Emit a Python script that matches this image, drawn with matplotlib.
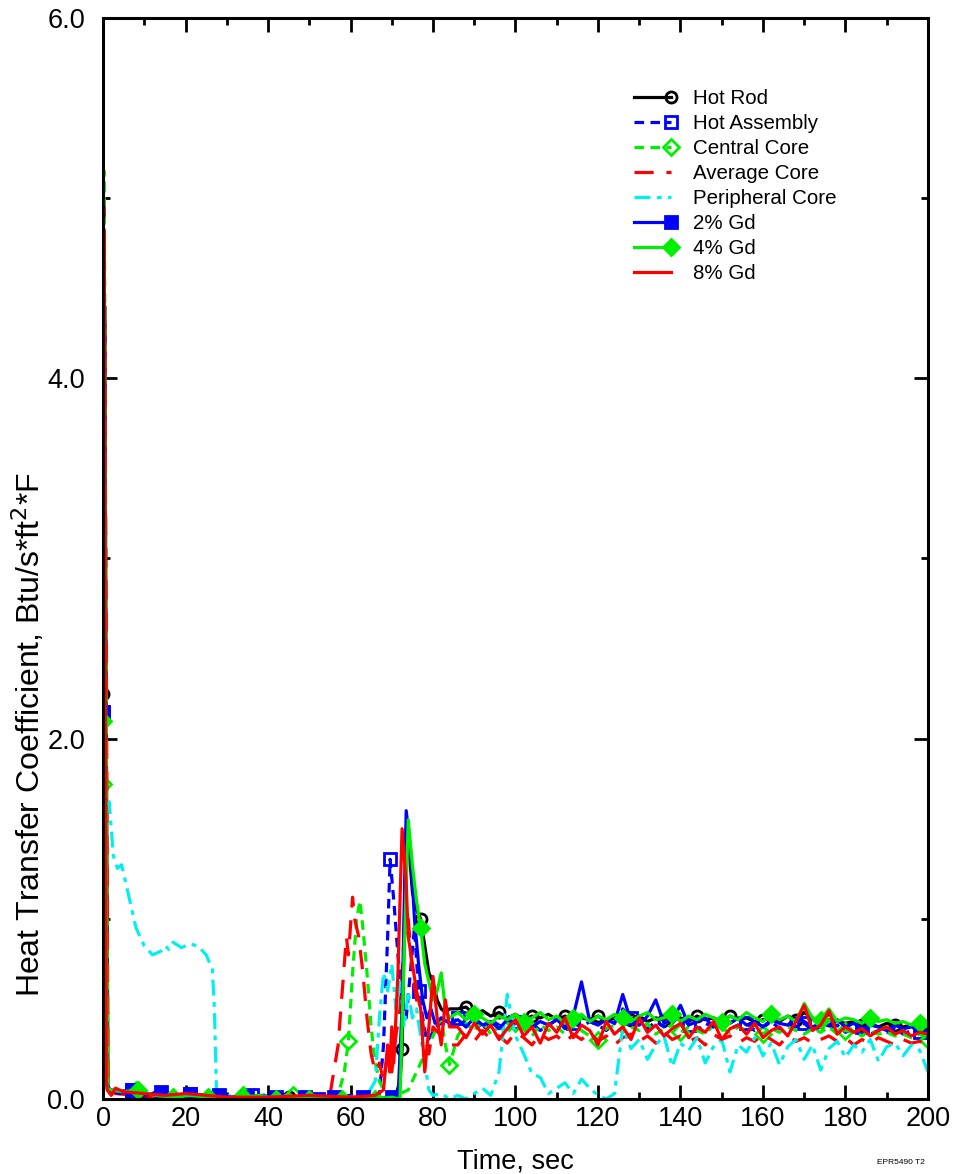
import numpy as np
import matplotlib
matplotlib.use("Agg")
import matplotlib.pyplot as plt
from matplotlib.legend_handler import HandlerLine2D
from matplotlib.ticker import MultipleLocator, FormatStrFormatter

plt.rcParams['font.family'] = ['Liberation Sans', 'DejaVu Sans']

# late-time grid shared by all series (sec)
t_late = [86, 88, 90, 92, 94, 96, 98, 100, 102, 104, 106, 108, 110, 112, 114, 116, 118, 120,
          122, 124, 126, 128, 130, 132, 134, 136, 138, 140, 142, 144, 146, 148, 150, 152, 154,
          156, 158, 160, 162, 164, 166, 168, 170, 172, 174, 176, 178, 180, 182, 184, 186, 188,
          190, 192, 194, 196, 198, 200]

# Hot Rod
rod_t = [0, 0.4, 0.8, 1.2, 2, 5, 10, 15, 20, 25, 30, 35, 40, 45, 50, 55, 60, 65, 69, 70, 71, 72,
         72.5, 73, 73.5, 74, 74.5, 75, 76, 77, 78, 79, 80, 81, 82, 83, 84]
rod_y = [2.25, 4.4, 2.0, 0.06, 0.05, 0.04, 0.0, 0.02, 0.01, 0.02, 0.01, 0.0, 0.0, 0.01, 0.0, 0.0,
         0.0, 0.0, 0.0, 0.0, 0.02, 0.1, 0.28, 0.9, 1.5, 1.45, 1.3, 1.15, 1.05, 1.0, 0.85, 0.7, 0.65,
         0.55, 0.5, 0.48, 0.5]
rod_late = [0.50, 0.51, 0.47, 0.49, 0.46, 0.48, 0.45, 0.47, 0.44, 0.46, 0.45, 0.47, 0.44, 0.46,
            0.43, 0.45, 0.44, 0.46, 0.43, 0.45, 0.47, 0.44, 0.46, 0.43, 0.45, 0.44, 0.46, 0.45,
            0.43, 0.46, 0.44, 0.45, 0.43, 0.46, 0.44, 0.45, 0.43, 0.44, 0.45, 0.43, 0.46, 0.44,
            0.48, 0.45, 0.43, 0.44, 0.43, 0.42, 0.43, 0.41, 0.42, 0.40, 0.42, 0.41, 0.40, 0.41,
            0.39, 0.38]

# Hot Assembly
ha_t = [0, 0.4, 1.0, 1.5, 3, 7, 11, 14, 18, 21, 25, 28, 32, 36, 40, 44, 48, 52, 56, 60, 64, 67,
        68, 69, 69.6, 70.5, 71.5, 72.5, 73.5, 74.5, 75.5, 76.5, 77.5, 78.5, 79.5, 80.5, 82, 84]
ha_y = [2.15, 4.3, 0.1, 0.05, 0.04, 0.05, 0.03, 0.04, 0.02, 0.03, 0.02, 0.02, 0.01, 0.02, 0.01,
        0.02, 0.01, 0.0, 0.01, 0.02, 0.01, 0.02, 0.3, 0.9, 1.33, 1.1, 0.8, 0.55, 0.45, 0.7, 0.95,
        0.6, 0.45, 0.32, 0.35, 0.4, 0.42, 0.4]
ha_late = [0.45, 0.40, 0.43, 0.38, 0.44, 0.41, 0.39, 0.43, 0.40, 0.42, 0.38, 0.41, 0.44, 0.39,
           0.42, 0.40, 0.43, 0.41, 0.38, 0.42, 0.50, 0.45, 0.41, 0.39, 0.43, 0.40, 0.42, 0.47,
           0.41, 0.38, 0.42, 0.40, 0.43, 0.39, 0.41, 0.42, 0.38, 0.40, 0.43, 0.39, 0.41, 0.40,
           0.42, 0.38, 0.40, 0.39, 0.41, 0.37, 0.39, 0.40, 0.36, 0.38, 0.37, 0.39, 0.36, 0.38,
           0.37, 0.35]

# Central Core
cc_t = [0, 0.3, 0.8, 1.2, 3, 8, 12, 17, 21, 25, 30, 34, 38, 42, 46, 50, 54, 57, 58.5, 59.5, 60.5,
        61.5, 62.3, 63, 64, 65, 66, 67, 68, 70, 72, 74, 76, 78, 80, 82, 83, 84]
cc_y = [1.75, 5.15, 2.0, 0.05, 0.04, 0.05, 0.02, 0.03, 0.01, 0.02, 0.01, 0.02, 0.0, 0.01, 0.02,
        0.0, 0.01, 0.02, 0.15, 0.32, 0.7, 1.0, 1.1, 0.95, 0.7, 0.4, 0.2, 0.1, 0.05, 0.02, 0.03,
        0.05, 0.15, 0.25, 0.35, 0.45, 0.3, 0.19]
cc_late = [0.35, 0.42, 0.38, 0.43, 0.36, 0.40, 0.37, 0.42, 0.39, 0.35, 0.41, 0.38, 0.40, 0.36,
           0.41, 0.38, 0.35, 0.33, 0.39, 0.41, 0.37, 0.40, 0.38, 0.42, 0.36, 0.39, 0.41, 0.37,
           0.40, 0.38, 0.36, 0.41, 0.39, 0.37, 0.40, 0.38, 0.41, 0.36, 0.39, 0.37, 0.40, 0.38,
           0.36, 0.39, 0.37, 0.40, 0.36, 0.38, 0.37, 0.35, 0.38, 0.36, 0.37, 0.35, 0.36, 0.34,
           0.36, 0.33]

# Average Core
ac_t = [0, 0.2, 0.8, 1.2, 3, 8, 15, 25, 35, 45, 55, 57, 58, 59, 59.5, 60.5, 61, 62, 63, 64, 65,
        66, 67, 68, 69, 70, 71, 72, 73, 74, 75, 76, 77, 78, 79, 80, 82, 84]
ac_y = [1.7, 4.95, 2.5, 0.05, 0.03, 0.02, 0.01, 0.02, 0.0, 0.01, 0.02, 0.3, 0.6, 0.9, 0.8, 1.12,
        1.0, 0.9, 0.7, 0.45, 0.25, 0.15, 0.2, 0.1, 0.25, 0.15, 0.35, 0.5, 0.9, 1.0, 0.7, 0.55, 0.5,
        0.35, 0.25, 0.4, 0.35, 0.3]
ac_late = [0.30, 0.36, 0.32, 0.38, 0.33, 0.35, 0.31, 0.37, 0.34, 0.30, 0.36, 0.33, 0.35, 0.31,
           0.36, 0.33, 0.37, 0.32, 0.35, 0.30, 0.34, 0.36, 0.32, 0.35, 0.31, 0.37, 0.33, 0.35,
           0.32, 0.34, 0.30, 0.36, 0.33, 0.35, 0.31, 0.34, 0.32, 0.36, 0.33, 0.30, 0.35, 0.32,
           0.34, 0.31, 0.33, 0.35, 0.32, 0.34, 0.30, 0.33, 0.31, 0.34, 0.32, 0.30, 0.33, 0.31,
           0.32, 0.30]

# Peripheral Core
pc_t = [0, 0.5, 1.5, 2.5, 3.5, 4.5, 6, 8, 10, 12, 14, 15, 16, 17, 19, 21, 23, 25, 26.5, 27, 27.5,
        30, 35, 40, 45, 50, 55, 60, 64, 66, 67, 68, 69, 70, 71, 72, 73, 74, 75, 76, 77, 78, 79,
        80, 82, 84]
pc_y = [1.75, 1.6, 1.65, 1.35, 1.28, 1.3, 1.15, 0.95, 0.85, 0.8, 0.82, 0.85, 0.83, 0.87, 0.84,
        0.86, 0.85, 0.8, 0.72, 0.5, 0.05, 0.02, 0.0, 0.03, 0.01, 0.02, 0.0, 0.01, 0.02, 0.1, 0.45,
        0.7, 0.6, 0.75, 0.5, 0.65, 0.4, 0.6, 0.45, 0.5, 0.35, 0.2, 0.05, 0.02, 0.03, 0.0]
pc_late = [0.02, 0.00, 0.03, 0.06, 0.02, 0.15, 0.58, 0.35, 0.25, 0.14, 0.12, 0.03, 0.06, 0.09,
           0.03, 0.11, 0.06, 0.02, 0.00, 0.03, 0.40, 0.28, 0.33, 0.22, 0.30, 0.35, 0.18, 0.31,
           0.27, 0.34, 0.20, 0.29, 0.33, 0.15, 0.30, 0.26, 0.34, 0.24, 0.31, 0.19, 0.29, 0.33,
           0.22, 0.30, 0.16, 0.28, 0.32, 0.23, 0.30, 0.26, 0.33, 0.21, 0.29, 0.31, 0.24, 0.30,
           0.27, 0.15]

# 2% Gd
g2_t = [0, 0.3, 0.8, 1.5, 4, 7, 10, 14, 17, 21, 24, 28, 31, 35, 38, 42, 45, 49, 52, 56, 59, 63,
        66, 70, 71.5, 72.5, 73.5, 74.5, 75.5, 76.5, 77.5, 78.5, 79.5, 80.5, 82, 84]
g2_y = [2.15, 4.3, 0.1, 0.05, 0.03, 0.05, 0.02, 0.04, 0.02, 0.03, 0.02, 0.02, 0.01, 0.01, 0.02,
        0.01, 0.0, 0.01, 0.02, 0.01, 0.0, 0.01, 0.0, 0.01, 0.0, 0.5, 1.6, 1.4, 1.0, 0.75, 0.55,
        0.45, 0.5, 0.42, 0.45, 0.42]
g2_late = [0.44, 0.40, 0.45, 0.41, 0.43, 0.39, 0.44, 0.42, 0.45, 0.40, 0.43, 0.41, 0.44, 0.40,
           0.46, 0.65, 0.43, 0.41, 0.44, 0.42, 0.58, 0.43, 0.41, 0.46, 0.55, 0.42, 0.44, 0.52,
           0.41, 0.43, 0.45, 0.40, 0.44, 0.42, 0.45, 0.41, 0.43, 0.40, 0.44, 0.42, 0.41, 0.45,
           0.43, 0.40, 0.42, 0.41, 0.44, 0.40, 0.42, 0.39, 0.41, 0.40, 0.38, 0.41, 0.39, 0.40,
           0.38, 0.37]

# 4% Gd
g4_t = [0, 0.3, 1.0, 2, 4.5, 8.5, 12.5, 17, 21, 25.5, 29.5, 34, 38, 42, 46, 50, 54, 58, 62, 66,
        70, 72, 73, 74, 75, 76, 77, 78, 79, 80, 81, 82, 83, 84]
g4_y = [2.1, 4.2, 0.06, 0.05, 0.04, 0.05, 0.02, 0.01, 0.02, 0.01, 0.0, 0.01, 0.02, 0.0, 0.01,
        0.0, 0.01, 0.0, 0.01, 0.0, 0.01, 0.0, 0.8, 1.55, 1.3, 1.1, 0.95, 0.75, 0.65, 0.55, 0.6,
        0.7, 0.5, 0.45]
g4_late = [0.48, 0.44, 0.47, 0.45, 0.42, 0.46, 0.44, 0.47, 0.43, 0.45, 0.48, 0.44, 0.46, 0.42,
           0.45, 0.47, 0.43, 0.46, 0.44, 0.47, 0.45, 0.43, 0.46, 0.48, 0.44, 0.45, 0.47, 0.43,
           0.46, 0.44, 0.47, 0.45, 0.43, 0.46, 0.44, 0.48, 0.45, 0.43, 0.47, 0.44, 0.46, 0.43,
           0.53, 0.45, 0.44, 0.50, 0.43, 0.45, 0.44, 0.42, 0.45, 0.43, 0.44, 0.42, 0.43, 0.41,
           0.42, 0.40]

# 8% Gd
g8_t = [0, 0.3, 0.8, 1.0, 2, 3, 5, 10, 15, 20, 25, 30, 40, 50, 60, 66, 68, 69, 69.5, 70, 70.5, 71,
        71.5, 72.5, 73.5, 74, 75, 76, 77, 78, 79, 80, 81, 82, 83, 84]
g8_y = [2.0, 4.8, 0.1, 0.05, 0.02, 0.06, 0.04, 0.03, 0.02, 0.03, 0.02, 0.01, 0.01, 0.02, 0.01,
        0.02, 0.05, 0.3, 0.15, 0.4, 0.2, 0.45, 0.7, 1.5, 1.2, 0.9, 0.75, 0.6, 0.5, 0.15, 0.4, 0.68,
        0.45, 0.3, 0.55, 0.4]
g8_late = [0.40, 0.34, 0.42, 0.36, 0.41, 0.33, 0.39, 0.44, 0.35, 0.40, 0.31, 0.42, 0.37, 0.45,
           0.34, 0.41, 0.38, 0.30, 0.43, 0.36, 0.40, 0.33, 0.45, 0.37, 0.41, 0.35, 0.39, 0.42,
           0.34, 0.40, 0.37, 0.43, 0.33, 0.39, 0.41, 0.36, 0.42, 0.34, 0.38, 0.40, 0.35, 0.43,
           0.52, 0.38, 0.41, 0.49, 0.36, 0.40, 0.37, 0.39, 0.35, 0.38, 0.40, 0.36, 0.38, 0.35,
           0.37, 0.36]

labels = ["Hot Rod", "Hot Assembly", "Central Core", "Average Core", "Peripheral Core",
          "2% Gd", "4% Gd", "8% Gd"]


def mark_idx(t, times):
    t = np.asarray(t, dtype=float)
    return sorted({int(np.abs(t - m).argmin()) for m in times})


series = [
    (rod_t, rod_y, rod_late, dict(color="black", ls="-", marker="o", mfc="none",
                                  marks=[0, 10, 35, 45, 72.5, 77] + list(range(88, 201, 8)))),
    (ha_t, ha_y, ha_late, dict(color="#0000ff", ls=(0, (3, 2)), marker="s", mfc="none",
                               marks=[0, 7, 21, 36, 52, 69.6, 76.5] + list(range(86, 201, 14)))),
    (cc_t, cc_y, cc_late, dict(color="#00ee00", ls=(0, (3, 2)), marker="D", mfc="none",
                               marks=[0, 8, 21, 34, 46, 59.5, 84] + list(range(100, 201, 20)))),
    (ac_t, ac_y, ac_late, dict(color="#ff0000", ls=(0, (6, 4)), marker=None, mfc="none", marks=None)),
    (pc_t, pc_y, pc_late, dict(color="#00f0f0", ls=(0, (5, 2, 1.5, 2)), marker=None, mfc="none",
                               marks=None)),
    (g2_t, g2_y, g2_late, dict(color="#0000ff", ls="-", marker="s", mfc="#0000ff",
                               marks=[0, 7, 14, 21, 28, 35, 42, 49, 56, 63, 70])),
    (g4_t, g4_y, g4_late, dict(color="#00ee00", ls="-", marker="D", mfc="#00ee00",
                               marks=[0, 8.5, 17, 25.5, 34, 42, 50, 58, 66, 77] + list(range(90, 201, 12)))),
    (g8_t, g8_y, g8_late, dict(color="#ff0000", ls="-", marker=None, mfc="none", marks=None)),
]

fig = plt.figure(figsize=(9.54, 11.74), dpi=100)
ax = fig.add_axes([0.108, 0.0639, 0.8647, 0.9208])

handles = []
for (t, y, late, st), lab in zip(series, labels):
    tt = list(t) + t_late
    yy = list(y) + late
    me = mark_idx(tt, st["marks"]) if st["marks"] is not None else None
    ln, = ax.plot(tt, yy, color=st["color"], ls=st["ls"], lw=2.3,
                  marker=st["marker"], mfc=st["mfc"], mec=st["color"], mew=2.0,
                  ms=8, markevery=me, label=lab)
    handles.append(ln)


class EndMarker(HandlerLine2D):
    def create_artists(self, *args, **kwargs):
        arts = super().create_artists(*args, **kwargs)
        arts[0].set_markevery([1])
        return arts


ax.legend(handles=handles, loc="upper left", bbox_to_anchor=(618 / 954, 1 - 79 / 1174),
          bbox_transform=fig.transFigure, frameon=False, fontsize=14.75, handlelength=2.4,
          handletextpad=0.75, labelspacing=0.29, borderpad=0, numpoints=2,
          handler_map={matplotlib.lines.Line2D: EndMarker(numpoints=2)})

ax.set_xlim(0, 200)
ax.set_ylim(0, 6)
ax.xaxis.set_major_locator(MultipleLocator(20))
ax.xaxis.set_minor_locator(MultipleLocator(10))
ax.yaxis.set_major_locator(MultipleLocator(2))
ax.yaxis.set_minor_locator(MultipleLocator(1))
ax.yaxis.set_major_formatter(FormatStrFormatter("%.1f"))
ax.tick_params(which="both", direction="in", top=True, right=True, width=2, labelsize=19.5)
ax.tick_params(which="major", length=10)
ax.tick_params(which="minor", length=5)
ax.tick_params(axis="x", which="major", pad=5)
ax.tick_params(axis="y", which="major", pad=13)
for sp in ax.spines.values():
    sp.set_linewidth(2.2)

ax.set_xlabel("Time, sec", fontsize=19.5, labelpad=12)
ax.set_ylabel("Heat Transfer Coefficient, Btu/s*ft$^2$*F", fontsize=23)
ax.yaxis.set_label_coords(-0.068, 0.337)

fig.text(925 / 954, 1 - 1162 / 1174, "EPR5490 T2", fontsize=6, ha="right", va="center")

fig.savefig("out.png", dpi=100)
